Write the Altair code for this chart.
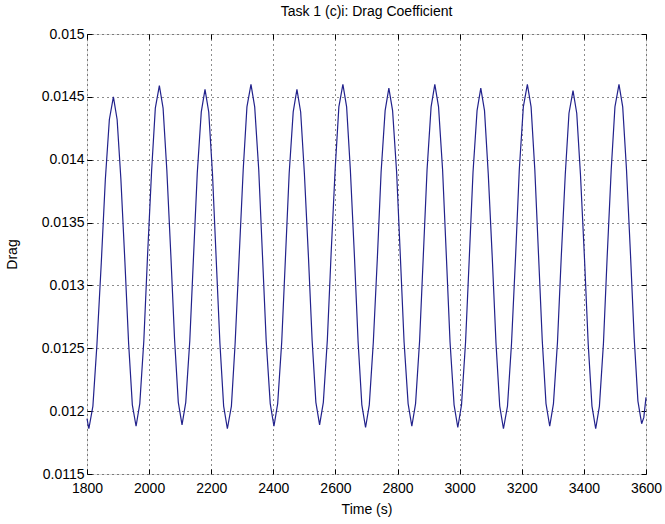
import altair as alt
import pandas as pd

time_s = [
    1800, 1806, 1819, 1832, 1846, 1859, 1872, 1885,
    1897, 1909, 1922, 1934, 1946, 1958,
    1970, 1983, 1995, 2008, 2020, 2033,
    2045, 2057, 2070, 2082, 2094, 2106,
    2118, 2131, 2143, 2155, 2168, 2180,
    2192, 2204, 2216, 2228, 2240, 2252,
    2265, 2277, 2290, 2303, 2315, 2328,
    2340, 2353, 2365, 2377, 2390, 2402,
    2414, 2427, 2439, 2451, 2464, 2476,
    2488, 2500, 2513, 2525, 2537, 2549,
    2561, 2574, 2586, 2599, 2611, 2624,
    2636, 2648, 2661, 2673, 2685, 2697,
    2709, 2722, 2735, 2747, 2760, 2772,
    2784, 2797, 2809, 2821, 2834, 2846,
    2858, 2871, 2883, 2895, 2908, 2920,
    2932, 2945, 2957, 2969, 2982, 2994,
    3006, 3019, 3031, 3043, 3056, 3068,
    3080, 3092, 3105, 3117, 3129, 3141,
    3154, 3167, 3180, 3192, 3205, 3218,
    3230, 3242, 3254, 3266, 3278, 3290,
    3302, 3315, 3327, 3340, 3352, 3365,
    3377, 3389, 3402, 3414, 3426, 3438,
    3450, 3463, 3475, 3488, 3500, 3513,
    3525, 3537, 3550, 3562, 3574, 3586,
    3593, 3600,
]

drag = [
    0.01194, 0.01186, 0.01204, 0.01253, 0.01318, 0.01384, 0.01432, 0.01450,
    0.01432, 0.01385, 0.01319, 0.01254, 0.01205, 0.01188,
    0.01206, 0.01256, 0.01324, 0.01391, 0.01441, 0.01459,
    0.01441, 0.01392, 0.01324, 0.01257, 0.01207, 0.01189,
    0.01207, 0.01256, 0.01323, 0.01389, 0.01438, 0.01456,
    0.01438, 0.01389, 0.01321, 0.01254, 0.01204, 0.01186,
    0.01204, 0.01254, 0.01323, 0.01392, 0.01442, 0.01460,
    0.01442, 0.01392, 0.01324, 0.01256, 0.01206, 0.01188,
    0.01206, 0.01255, 0.01322, 0.01389, 0.01438, 0.01456,
    0.01438, 0.01389, 0.01323, 0.01256, 0.01207, 0.01189,
    0.01207, 0.01257, 0.01325, 0.01392, 0.01442, 0.01460,
    0.01442, 0.01392, 0.01324, 0.01255, 0.01205, 0.01187,
    0.01205, 0.01255, 0.01322, 0.01390, 0.01439, 0.01457,
    0.01439, 0.01390, 0.01323, 0.01255, 0.01206, 0.01188,
    0.01206, 0.01256, 0.01324, 0.01392, 0.01442, 0.01460,
    0.01442, 0.01392, 0.01324, 0.01255, 0.01205, 0.01187,
    0.01205, 0.01255, 0.01322, 0.01390, 0.01439, 0.01457,
    0.01439, 0.01389, 0.01322, 0.01254, 0.01204, 0.01186,
    0.01204, 0.01254, 0.01323, 0.01392, 0.01442, 0.01460,
    0.01442, 0.01392, 0.01324, 0.01256, 0.01206, 0.01188,
    0.01206, 0.01255, 0.01322, 0.01388, 0.01437, 0.01455,
    0.01437, 0.01388, 0.01321, 0.01253, 0.01204, 0.01186,
    0.01204, 0.01254, 0.01323, 0.01392, 0.01442, 0.01460,
    0.01442, 0.01393, 0.01325, 0.01258, 0.01208, 0.01190,
    0.01195, 0.01211,
]

x_ticks = [1800, 2000, 2200, 2400, 2600, 2800, 3000, 3200, 3400, 3600]
y_ticks = [0.0115, 0.012, 0.0125, 0.013, 0.0135, 0.014, 0.0145, 0.015]

df = pd.DataFrame({"t": time_s, "drag": drag})

W, H = 559, 440
FONT = "Liberation Sans"

xscale = alt.Scale(domain=[1800, 3600], nice=False, zero=False)
yscale = alt.Scale(domain=[0.0115, 0.015], nice=False, zero=False)

base = alt.Chart(df)

main = base.mark_line(color="#22228c", strokeWidth=1.2).encode(
    x=alt.X("t:Q", scale=xscale, axis=alt.Axis(
        values=x_ticks, format="d", title="Time (s)", orient="bottom",
        offset=-5, tickSize=5, tickColor="black", domain=False,
        grid=True, gridColor="black", gridDash=[1, 4], gridOpacity=0.9,
        labelFlush=False, labelOverlap=False,
        labelFont=FONT, labelFontSize=14, labelColor="black", labelPadding=7,
        titleFont=FONT, titleFontSize=14, titleFontWeight="normal",
        titleColor="black", titlePadding=7)),
    y=alt.Y("drag:Q", scale=yscale, axis=alt.Axis(
        values=y_ticks, format=".4~f", title="Drag", orient="left",
        offset=-5, tickSize=5, tickColor="black", domain=False,
        grid=True, gridColor="black", gridDash=[1, 4], gridOpacity=0.9,
        labelFlush=False, labelOverlap=False,
        labelFont=FONT, labelFontSize=14, labelColor="black", labelPadding=3,
        titleFont=FONT, titleFontSize=14, titleFontWeight="normal",
        titleColor="black", titlePadding=22)),
)

mirror = base.mark_line(strokeOpacity=0).encode(
    x=alt.X("t:Q", scale=xscale, axis=alt.Axis(
        values=x_ticks, title=None, orient="top", offset=-5, tickSize=5,
        tickColor="black", domain=False, labels=False, grid=False)),
    y=alt.Y("drag:Q", scale=yscale, axis=alt.Axis(
        values=y_ticks, title=None, orient="right", offset=-5, tickSize=5,
        tickColor="black", domain=False, labels=False, grid=False)),
)

chart = alt.layer(main, mirror).resolve_axis(x="independent", y="independent").properties(
    width=W, height=H,
    autosize=alt.AutoSizeParams(type="none"),
    padding={"left": 87, "top": 34, "right": 19, "bottom": 50},
    title=alt.TitleParams("Task 1 (c)i: Drag Coefficient", font=FONT, fontSize=14,
                          fontWeight="normal", color="black", offset=8),
).configure_view(stroke="black", strokeWidth=1).configure(background="white")

chart.save("out.html", embed_options={"renderer": "svg", "actions": False})
